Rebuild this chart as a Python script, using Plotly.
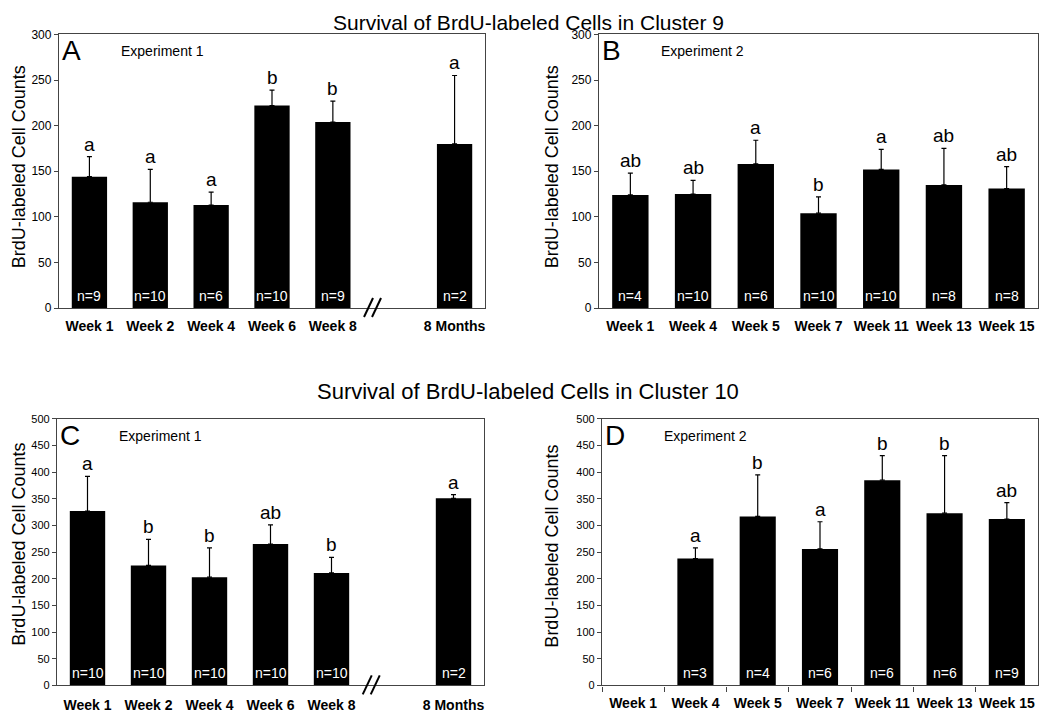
import plotly.graph_objects as go

# ----------------------------------------------------------------------
# Data (means, SEM, group letters, sample sizes)
# ----------------------------------------------------------------------
exp1_cats = ["Week 1", "Week 2", "Week 4", "Week 6", "Week 8", " ", "8 Months"]
exp2_cats = ["Week 1", "Week 4", "Week 5", "Week 7", "Week 11", "Week 13", "Week 15"]

a_weeks = ["Week 1", "Week 2", "Week 4", "Week 6", "Week 8", "8 Months"]
a_means = [144, 116, 113, 222, 204, 180]
a_sem = [22, 36, 14, 17, 23, 75]
a_letters = ["a", "a", "a", "b", "b", "a"]
a_n = [9, 10, 6, 10, 9, 2]

b_weeks = ["Week 1", "Week 4", "Week 5", "Week 7", "Week 11", "Week 13", "Week 15"]
b_means = [124, 125, 158, 104, 152, 135, 131]
b_sem = [24, 15, 26, 18, 22, 40, 24]
b_letters = ["ab", "ab", "a", "b", "a", "ab", "ab"]
b_n = [4, 10, 6, 10, 10, 8, 8]

c_weeks = ["Week 1", "Week 2", "Week 4", "Week 6", "Week 8", "8 Months"]
c_means = [327, 225, 203, 265, 211, 351]
c_sem = [65, 49, 55, 36, 29, 7]
c_letters = ["a", "b", "b", "ab", "b", "a"]
c_n = [10, 10, 10, 10, 10, 2]

d_weeks = ["Week 4", "Week 5", "Week 7", "Week 11", "Week 13", "Week 15"]
d_means = [238, 317, 256, 385, 323, 312]
d_sem = [20, 78, 51, 46, 108, 31]
d_letters = ["a", "b", "a", "b", "b", "ab"]
d_n = [3, 4, 6, 6, 6, 9]

FONT = "Arial, Liberation Sans, sans-serif"
W, H = 1050, 714
LINE = "#444444"

# plot areas in screen pixels: (left, right, top, bottom)
boxes = {
    "A": (57, 483, 34, 308),
    "B": (597, 1036, 34, 308),
    "C": (55, 482, 419, 686),
    "D": (600, 1036, 419, 686),
}
# y-title centres (x, y) in screen pixels
ytitle_pos = {"A": (17, 167), "B": (550, 167), "C": (17, 545), "D": (550, 547)}

panels = [
    ("A", "", exp1_cats, a_weeks, a_means, a_sem, a_letters, a_n, 300, "Experiment 1"),
    ("B", "2", exp2_cats, b_weeks, b_means, b_sem, b_letters, b_n, 300, "Experiment 2"),
    ("C", "3", exp1_cats, c_weeks, c_means, c_sem, c_letters, c_n, 500, "Experiment 1"),
    ("D", "4", exp2_cats, d_weeks, d_means, d_sem, d_letters, d_n, 500, "Experiment 2"),
]

fig = go.Figure()
annotations = []
shapes = []


# screen pixel -> paper fraction (measured offset / squeeze of the photographed page)
def px_x(p):
    return (p - 6) / W


def px_y(p):
    return 1 - ((p - 14.5) / 0.982) / H


for label, sfx, cats, weeks, means, sem, letters, ns, ymax, exp in panels:
    xa, ya = "x" + sfx, "y" + sfx
    l, r, t, b = boxes[label]
    fig.add_trace(go.Bar(
        x=weeks, y=means, xaxis=xa, yaxis=ya,
        marker=dict(color="black", line=dict(width=0)),
        error_y=dict(type="data", array=sem, arrayminus=[0] * len(sem),
                     symmetric=False, color="black", thickness=1.2, width=2.5),
        showlegend=False,
    ))
    tick_font = 12 if ymax == 300 else 11
    fig.update_layout(**{
        "xaxis" + sfx: dict(
            domain=[px_x(l), px_x(r)], anchor=ya, type="category",
            categoryorder="array", categoryarray=cats, range=[-0.5, len(cats) - 0.5],
            showline=True, linecolor=LINE, linewidth=1.3, mirror=True,
            ticks="outside" if label == "D" else "", tickson="boundaries",
            ticklen=5, tickcolor=LINE, tickangle=0,
            tickfont=dict(family=FONT, size=14, color="black", weight="bold"),
            ticklabelstandoff=5 if label == "A" or label == "B" else (7 if label == "C" else 5),
            showgrid=False, zeroline=False, fixedrange=True,
        ),
        "yaxis" + sfx: dict(
            domain=[px_y(b), px_y(t)], anchor=xa, range=[0, ymax], dtick=50,
            showline=True, linecolor=LINE, linewidth=1.3, mirror=True,
            ticks="outside", ticklen=4, tickcolor=LINE,
            tickfont=dict(family=FONT, size=tick_font, color="black"),
            showgrid=False, zeroline=False,
        ),
    })
    # letters above error bars
    for w, m, s, lt in zip(weeks, means, sem, letters):
        annotations.append(dict(x=w, y=m + s, xref=xa, yref=ya, text=lt, showarrow=False,
                                yanchor="bottom", yshift=0,
                                font=dict(family=FONT, size=19, color="black")))
    # n= labels inside the bars
    for w, n in zip(weeks, ns):
        annotations.append(dict(x=w, y=0, xref=xa, yref=ya, text=f"n={n}", showarrow=False,
                                yanchor="bottom", yshift=2,
                                font=dict(family=FONT, size=14, color="white")))
    # panel letter and experiment label
    annotations.append(dict(x=px_x(l + 1), y=px_y(t - 1), xref="paper", yref="paper",
                            text=label, showarrow=False, xanchor="left", yanchor="top",
                            font=dict(family=FONT, size=28, color="black")))
    annotations.append(dict(x=px_x(l + 60), y=px_y(t + 17), xref="paper", yref="paper",
                            text=exp, showarrow=False, xanchor="left", yanchor="middle",
                            font=dict(family=FONT, size=14, color="black")))
    # y-axis title
    tx, ty = ytitle_pos[label]
    annotations.append(dict(x=px_x(tx), y=px_y(ty), xref="paper", yref="paper",
                            text="BrdU-labeled Cell Counts", textangle=-90, showarrow=False,
                            xanchor="center", yanchor="middle",
                            font=dict(family=FONT, size=18, color="black")))
    # axis break marks for experiment 1
    if exp == "Experiment 1":
        for off in (0, 8):
            x0 = l + (r - l) * 0.716 + off
            shapes.append(dict(type="line", xref="paper", yref="paper",
                               x0=px_x(x0), y0=px_y(b + 9), x1=px_x(x0 + 9), y1=px_y(b - 10),
                               line=dict(color="black", width=2)))

# section titles
for txt, ypx, fs in (("Survival of BrdU-labeled Cells in Cluster 9", 22, 21),
                     ("Survival of BrdU-labeled Cells in Cluster 10", 392, 22)):
    annotations.append(dict(x=px_x(526), y=px_y(ypx), xref="paper", yref="paper", text=txt,
                            showarrow=False, xanchor="center", yanchor="middle",
                            font=dict(family=FONT, size=fs, color="black")))

fig.update_layout(
    width=W, height=H, margin=dict(l=0, r=0, t=0, b=0),
    paper_bgcolor="white", plot_bgcolor="white",
    bargap=0.42, annotations=annotations, shapes=shapes,
    font=dict(family=FONT),
)

fig.write_html("out.html")
